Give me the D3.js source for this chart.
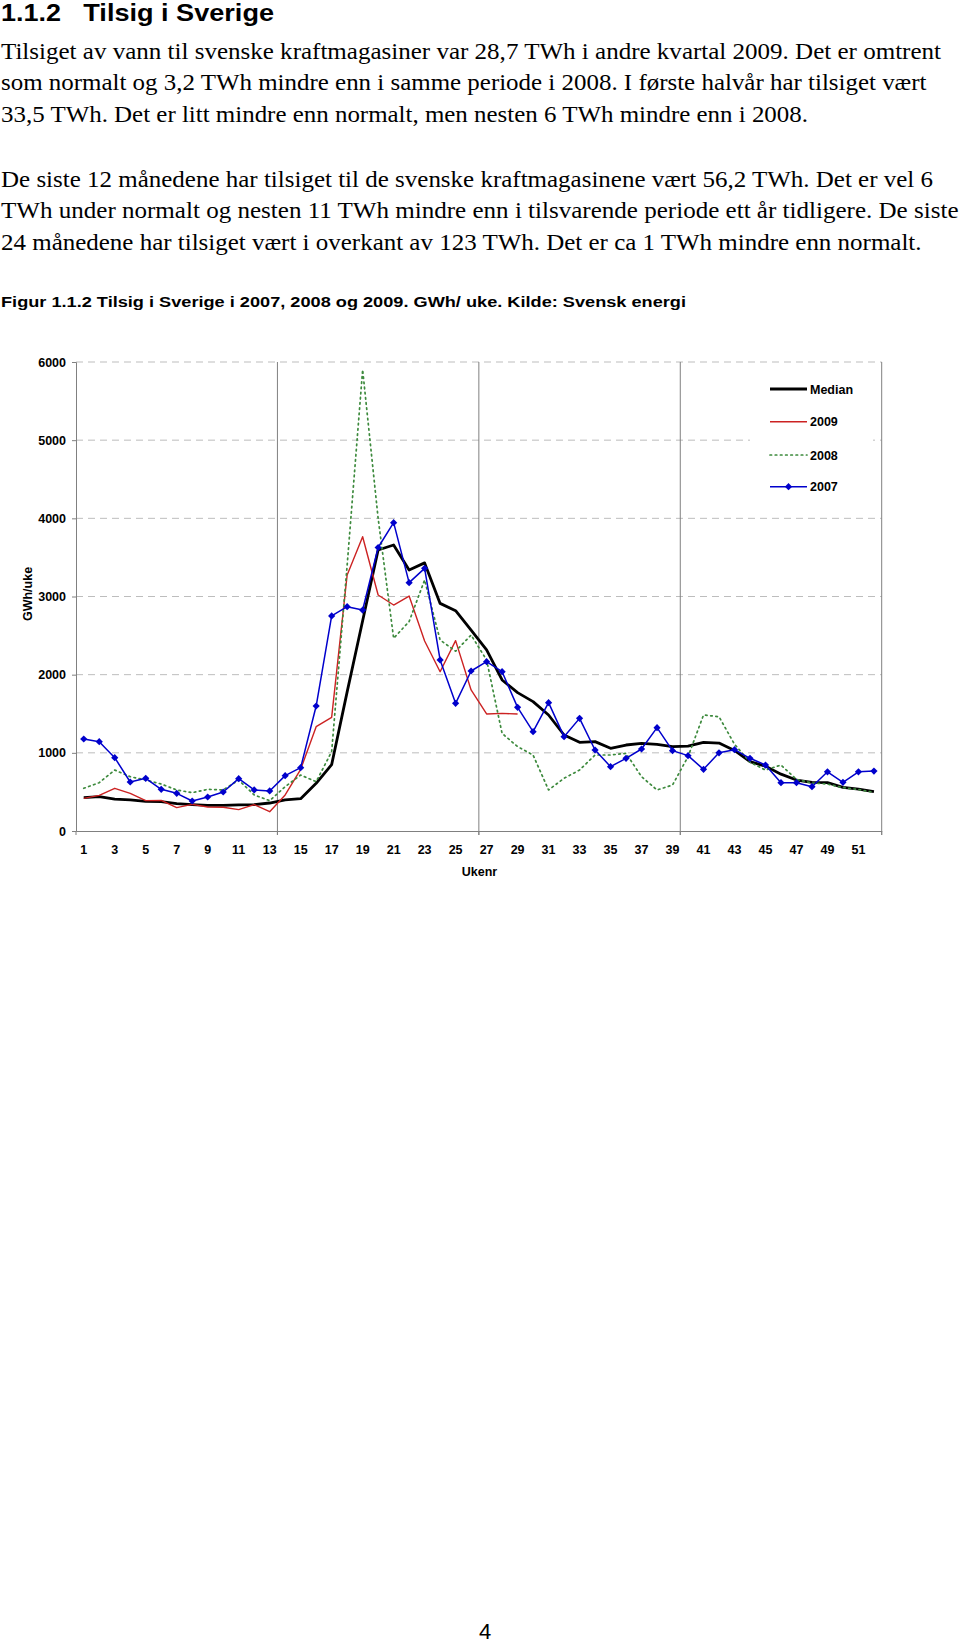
<!DOCTYPE html>
<html>
<head>
<meta charset="utf-8">
<script src="https://cdn.jsdelivr.net/npm/d3@7"></script>
<style>
  html, body { margin: 0; padding: 0; background: #fff; }
  svg { display: block; }
  .serif { font-family: "Liberation Serif", "Times New Roman", serif; fill: #000; }
  .sans { font-family: "Liberation Sans", Arial, sans-serif; fill: #000; }
</style>
</head>
<body>
<svg id="page" width="960" height="1645"></svg>
<script>
// ---------- DATA ----------
const weeks = [1,2,3,4,5,6,7,8,9,10,11,12,13,14,15,16,17,18,19,20,21,22,23,24,25,26,
               27,28,29,30,31,32,33,34,35,36,37,38,39,40,41,42,43,44,45,46,47,48,49,50,51,52];

const median = [426,439,409,397,380,375,350,337,328,328,333,337,358,397,414,610,849,1780,2690,3595,
                3659,3339,3430,2912,2819,2570,2316,1932,1770,1655,1484,1228,1134,1143,1058,1100,1121,
                1109,1079,1087,1135,1125,1030,887,830,727,652,623,618,559,537,503];

const y2009 = [418,456,546,482,388,392,299,341,307,303,273,337,247,461,789,1335,1454,3275,3765,3019,
               2891,3006,2430,2038,2435,1804,1497,1505,1497];

const y2008 = [546,618,780,695,652,601,525,490,533,525,652,461,388,567,716,631,1015,3400,5900,4000,
               2465,2680,3211,2443,2300,2507,2188,1249,1079,972,525,674,780,972,972,994,695,525,588,
               951,1484,1462,1110,880,780,844,660,615,600,555,530,495];

const y2007 = [1177,1143,938,627,674,533,482,384,435,499,670,525,512,708,810,1599,2752,2870,2827,3627,
               3945,3177,3360,2188,1633,2047,2166,2038,1582,1271,1642,1207,1441,1036,823,930,1049,1322,
               1028,964,789,1000,1040,930,844,618,618,567,757,623,757,767];

const yTicks = [0,1000,2000,3000,4000,5000,6000];
const xTickLabels = [1,3,5,7,9,11,13,15,17,19,21,23,25,27,29,31,33,35,37,39,41,43,45,47,49,51];
const gridWeeks = [0,13,26,39,52]; // category boundaries with vertical gridlines

const heading = ["1.1.2", "Tilsig i Sverige"];
const paragraph = [
  "Tilsiget av vann til svenske kraftmagasiner var 28,7 TWh i andre kvartal 2009. Det er omtrent",
  "som normalt og 3,2 TWh mindre enn i samme periode i 2008. I første halvår har tilsiget vært",
  "33,5 TWh. Det er litt mindre enn normalt, men nesten 6 TWh mindre enn i 2008.",
  "De siste 12 månedene har tilsiget til de svenske kraftmagasinene vært 56,2 TWh. Det er vel 6",
  "TWh under normalt og nesten 11 TWh mindre enn i tilsvarende periode ett år tidligere. De siste",
  "24 månedene har tilsiget vært i overkant av 123 TWh. Det er ca 1 TWh mindre enn normalt."
];
const caption = "Figur 1.1.2 Tilsig i Sverige i 2007, 2008 og 2009. GWh/ uke. Kilde: Svensk energi";
const yTitle = "GWh/uke";
const xTitle = "Ukenr";
const pageNo = "4";

const series = [
  {name: "Median", values: median, color: "#000000", width: 2.8, dash: null, marker: false},
  {name: "2009", values: y2009, color: "#cc2222", width: 1.4, dash: null, marker: false},
  {name: "2008", values: y2008, color: "#3d8a3d", width: 1.7, dash: "1.6,3.6", marker: false},
  {name: "2007", values: y2007, color: "#0000cc", width: 1.5, dash: null, marker: true}
];

(function draw() {
// ---------- PAGE TEXT ----------
const svg = d3.select("#page");

svg.append("text").attr("class","sans").attr("x",1).attr("y",20.7)
  .style("font-size","23px").style("font-weight","bold")
  .attr("textLength",60).attr("lengthAdjust","spacingAndGlyphs").text(heading[0]);
svg.append("text").attr("class","sans").attr("x",83.3).attr("y",20.7)
  .style("font-size","23px").style("font-weight","bold")
  .attr("textLength",190.7).attr("lengthAdjust","spacingAndGlyphs").text(heading[1]);

const paraY = [58.7, 90.4, 121.9, 186.7, 218.3, 250];
const paraW = [940, 925.5, 807, 932, 957.5, 920.5];
paragraph.forEach((t,i) => {
  svg.append("text").attr("class","serif").attr("x",1).attr("y",paraY[i])
    .style("font-size","23px")
    .attr("textLength",paraW[i]).attr("lengthAdjust","spacingAndGlyphs").text(t);
});

svg.append("text").attr("class","sans").attr("x",1).attr("y",306.7)
  .style("font-size","14.5px").style("font-weight","bold")
  .attr("textLength",685).attr("lengthAdjust","spacingAndGlyphs").text(caption);

svg.append("text").attr("class","sans").attr("x",485).attr("y",1639)
  .attr("text-anchor","middle").style("font-size","22px").text(pageNo);

// ---------- CHART ----------
const pLeft = 76, pRight = 881.7, pTop = 362, pBottom = 831;
const x = d3.scaleBand().domain(weeks).range([pLeft, pRight]).padding(0);
const bw = x.bandwidth();
const cx = w => x(w) + bw/2;
const y = d3.scaleLinear().domain([0,6000]).range([pBottom, pTop]);
const edge = k => pLeft + k * x.step();

const chart = svg.append("g");

// horizontal dashed gridlines
chart.append("g").selectAll("line").data(yTicks.filter(v => v > 0)).join("line")
  .attr("x1", pLeft).attr("x2", pRight)
  .attr("y1", d => y(d)).attr("y2", d => y(d))
  .attr("stroke", "#bdbdbd").attr("stroke-width", 1).attr("stroke-dasharray", "7,5");

// vertical gridlines (solid)
chart.append("g").selectAll("line").data(gridWeeks.slice(1)).join("line")
  .attr("x1", d => edge(d)).attr("x2", d => edge(d))
  .attr("y1", pTop).attr("y2", pBottom + 4)
  .attr("stroke", "#808080").attr("stroke-width", 1);

// y axis
const yAxis = chart.append("g").attr("transform", `translate(${pLeft},0)`)
  .call(d3.axisLeft(y).tickValues(yTicks).tickSize(4).tickPadding(6).tickFormat(d3.format("d")));
yAxis.select(".domain").attr("stroke", "#808080");
yAxis.selectAll(".tick line").attr("stroke", "#808080");
yAxis.selectAll("text").attr("class","sans").style("font-size","12.5px").style("font-weight","bold")
  .attr("fill","#000");

// x axis
const xAxis = chart.append("g").attr("transform", `translate(0,${pBottom})`)
  .call(d3.axisBottom(x).tickValues(xTickLabels).tickSize(0).tickPadding(14));
xAxis.select(".domain").attr("stroke", "#808080");
xAxis.selectAll("text").attr("class","sans").style("font-size","12.5px").style("font-weight","bold")
  .attr("fill","#000");
chart.append("g").selectAll("line").data(gridWeeks).join("line")
  .attr("x1", d => edge(d)).attr("x2", d => edge(d))
  .attr("y1", pBottom).attr("y2", pBottom + 4)
  .attr("stroke", "#808080");

// axis titles
chart.append("text").attr("class","sans").attr("x", 479.5).attr("y", 876)
  .attr("text-anchor","middle").style("font-size","12.5px").style("font-weight","bold").text(xTitle);
chart.append("text").attr("class","sans")
  .attr("transform", "translate(32,594) rotate(-90)")
  .attr("text-anchor","middle").style("font-size","12.5px").style("font-weight","bold").text(yTitle);

// legend background
const legend = chart.append("g");
legend.append("rect").attr("x", 750).attr("y", 370).attr("width", 123).attr("height", 134)
  .attr("fill", "#fff");

// series lines
const line = d3.line()
  .defined(d => d != null)
  .x((d,i) => cx(weeks[i]))
  .y(d => y(d));

const diamond = d3.symbol().type(d3.symbolSquare).size(26);

series.forEach(s => {
  const g = chart.append("g");
  g.append("path").datum(s.values)
    .attr("d", line)
    .attr("fill", "none")
    .attr("stroke", s.color)
    .attr("stroke-width", s.width)
    .attr("stroke-linejoin", "round")
    .attr("stroke-linecap", s.dash ? "round" : "butt")
    .attr("stroke-dasharray", s.dash);
  if (s.marker) {
    g.selectAll("path.mk").data(s.values).join("path").attr("class","mk")
      .attr("d", diamond)
      .attr("transform", (d,i) => `translate(${cx(weeks[i])},${y(d)}) rotate(45)`)
      .attr("fill", s.color);
  }
});

// legend entries
const legY = [389, 421.7, 455, 486.7];
series.forEach((s,i) => {
  const gy = legY[i];
  legend.append("line").attr("x1", 770).attr("x2", 807).attr("y1", gy).attr("y2", gy)
    .attr("stroke", s.color).attr("stroke-width", s.width)
    .attr("stroke-dasharray", s.dash).attr("stroke-linecap", s.dash ? "round" : "butt");
  if (s.marker) {
    legend.append("path").attr("d", diamond)
      .attr("transform", `translate(788.5,${gy}) rotate(45)`).attr("fill", s.color);
  }
  legend.append("text").attr("class","sans").attr("x", 810).attr("y", gy).attr("dy","0.36em")
    .style("font-size","12.5px").style("font-weight","bold").text(s.name);
});
})();
</script>
</body>
</html>
